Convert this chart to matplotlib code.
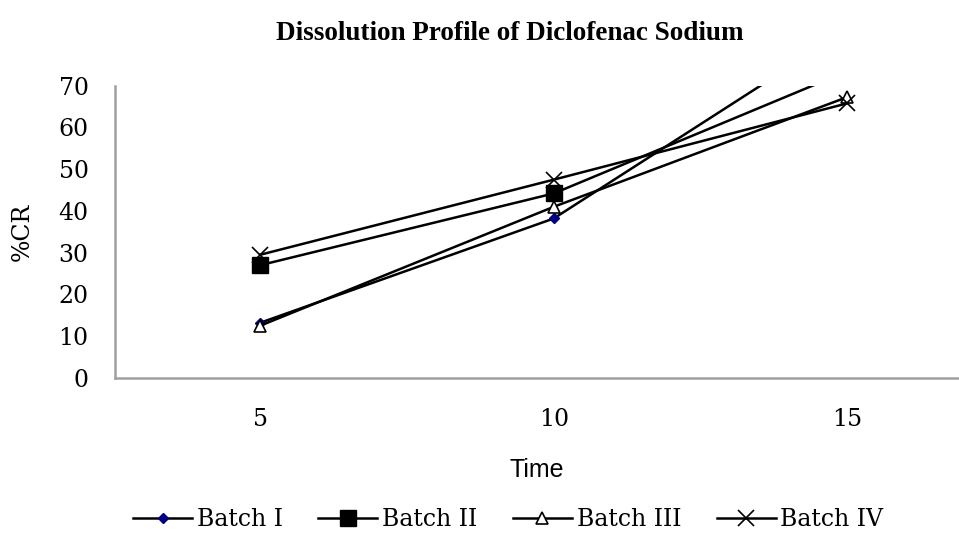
import matplotlib.pyplot as plt

# dissolution data
time = [5, 10, 15]
batch_1 = [13.2, 38.2, 83.4]
batch_2 = [27.0, 44.2, 73.5]
batch_3 = [12.5, 41.0, 67.3]
batch_4 = [29.5, 47.5, 65.8]
labels = ['Batch I', 'Batch II', 'Batch III', 'Batch IV']

serif = 'DejaVu Serif'

fig = plt.figure(figsize=(9.59, 5.36), dpi=100)
ax = fig.add_axes([0.12, 0.295, 0.88, 0.545])

ax.plot(time, batch_1, color='black', lw=1.8, marker='D', ms=5.5,
        mfc='#000080', mec='#000080', label=labels[0])
ax.plot(time, batch_2, color='black', lw=1.8, marker='s', ms=11,
        mfc='black', mec='black', label=labels[1])
ax.plot(time, batch_3, color='black', lw=1.8, marker='^', ms=8,
        mfc='white', mec='black', mew=1.2, label=labels[2])
ax.plot(time, batch_4, color='black', lw=1.8, marker='x', ms=12,
        mec='black', mew=1.2, label=labels[3])

ax.set_xlim(2.53, 16.9)
ax.set_ylim(0, 70)
ax.set_xticks(time)
ax.set_yticks(range(0, 71, 10))
ax.tick_params(length=0, labelsize=17)
ax.tick_params(axis='y', pad=19)
ax.tick_params(axis='x', pad=22)
for lab in ax.get_xticklabels() + ax.get_yticklabels():
    lab.set_family(serif)

for s in ['top', 'right']:
    ax.spines[s].set_visible(False)
for s in ['left', 'bottom']:
    ax.spines[s].set_color('#a0a0a0')
    ax.spines[s].set_linewidth(1.8)

ax.set_xlabel('Time', family='Liberation Sans', fontsize=18, labelpad=19)
ax.set_ylabel('%CR', family=serif, fontsize=17, labelpad=18)
fig.text(0.532, 0.938, 'Dissolution Profile of Diclofenac Sodium',
         family='Liberation Serif', fontweight='bold', fontsize=19.5,
         ha='center', va='center')

fig.legend(loc='center', bbox_to_anchor=(0.53, 0.03), ncol=4, frameon=False,
           prop={'family': serif, 'size': 17}, handlelength=2.5,
           handletextpad=0.2, columnspacing=1.5)

fig.savefig('out.png', dpi=100)
